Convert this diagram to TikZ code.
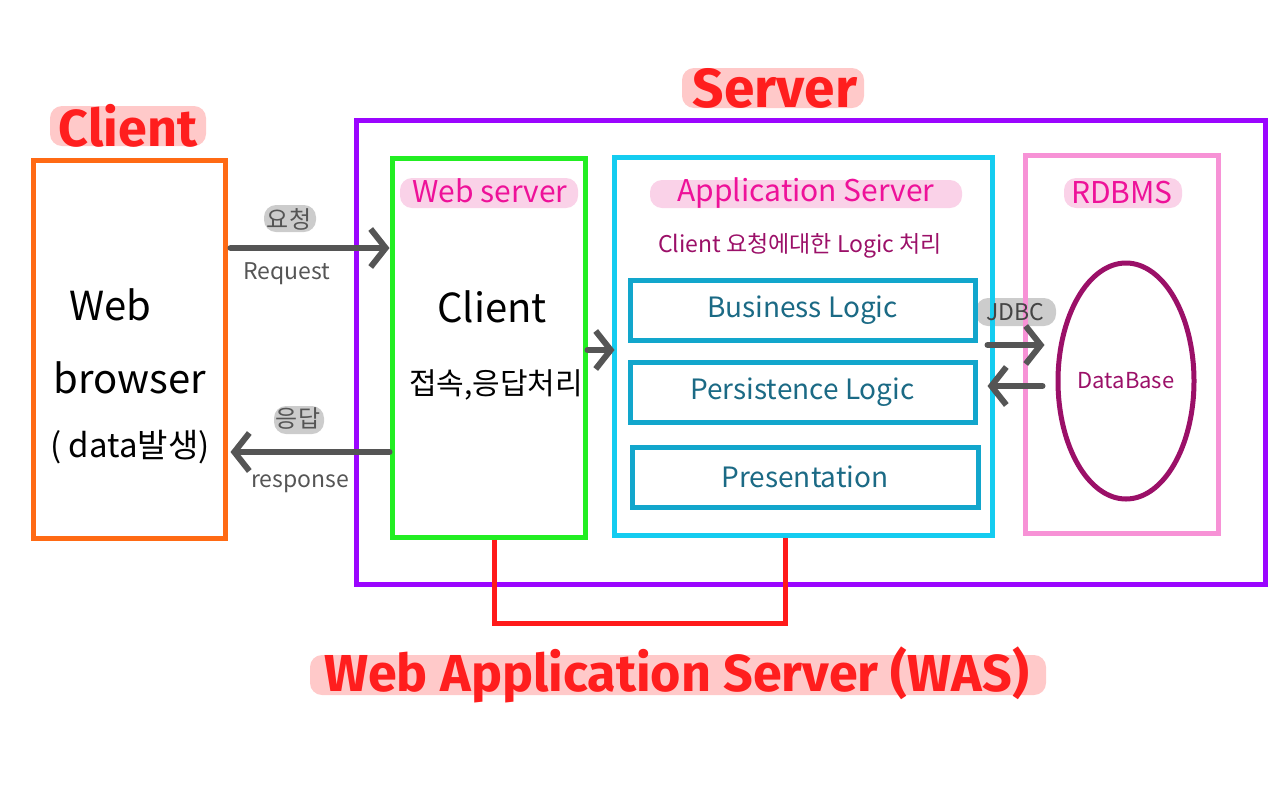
\documentclass[tikz,border=0pt]{standalone}
\usepackage{fontspec}
\setmainfont{Noto Sans CJK KR}
\newfontfamily\titlefont{Fira Sans}
\usetikzlibrary{arrows.meta,shapes.geometric,calc}
\definecolor{titlered}{HTML}{FF1E1E}
\definecolor{hlpink}{HTML}{FFC9C9}
\definecolor{hlmag}{HTML}{FAD2E8}
\definecolor{cOrange}{HTML}{FF6A14}
\definecolor{cPurple}{HTML}{9B05FF}
\definecolor{cGreen}{HTML}{22EE22}
\definecolor{cCyan}{HTML}{14CCF0}
\definecolor{cInner}{HTML}{12A6CC}
\definecolor{cPink}{HTML}{F792D6}
\definecolor{cMag}{HTML}{EE1199}
\definecolor{cDark}{HTML}{9B1068}
\definecolor{cTeal}{HTML}{1B6A85}
\definecolor{cGray}{HTML}{555555}
\definecolor{hlgray}{HTML}{CCCCCC}
\definecolor{cRed}{HTML}{FF1A1A}
\tikzset{
  box/.style={draw, line width=5pt, inner sep=0pt, anchor=center},
  arr/.style={draw=cGray, line width=6pt, line cap=round, line join=round,
    -{Straight Barb[length=15pt,width=38pt,line width=6pt]}},
  hl/.style={rounded corners=12pt},
  bigtitle/.style={text=titlered, font=\titlefont\bfseries\fontsize{52}{60}\selectfont, inner sep=0pt},
  subtitle/.style={text=cMag, font=\fontsize{30}{34}\selectfont, inner sep=0pt},
  bodytxt/.style={text=black, font=\fontsize{40}{48}\selectfont, inner sep=0pt},
  lbl/.style={text=cGray, font=\fontsize{23}{27}\selectfont, inner sep=0pt},
  logic/.style={text=cTeal, font=\fontsize{28}{32}\selectfont, inner sep=0pt}
}
\begin{document}
\begin{tikzpicture}[x=1pt,y=-1pt]
\useasboundingbox (0,0) rectangle (1280,796);
% highlights
\fill[hlpink,hl] (50,106) rectangle (206,146);
\fill[hlpink,hl] (682,68) rectangle (864,108);
\fill[hlpink,hl] (310,655) rectangle (1046,695);
\fill[hlmag,hl] (400,178) rectangle (578,208);
\fill[hlmag,hl] (650,180) rectangle (962,208);
\fill[hlmag,hl] (1064,178) rectangle (1182,208);
\fill[hlgray,hl] (264,205) rectangle (316,232);
\fill[hlgray,hl] (274,406) rectangle (324,434);
\fill[hlgray,hl] (976,298) rectangle (1056,326);

% titles
\node[bigtitle] (clientT) at (128,126) {Client};
\node[bigtitle, font=\titlefont\bfseries\fontsize{55}{62}\selectfont] (serverT) at (775,88) {Server};
\node[bigtitle, font=\titlefont\bfseries\fontsize{52}{60}\selectfont] (wasT) at (677,675) {Web Application Server (WAS)};

% boxes
\node[box, draw=cOrange, minimum width=192pt, minimum height=378pt] (client) at (129,349) {};
\node[box, draw=cPurple, minimum width=909pt, minimum height=464pt] (server) at (810.5,352) {};
\node[box, draw=cGreen, minimum width=193pt, minimum height=379pt] (ws) at (488.5,347.5) {};
\node[box, draw=cCyan, minimum width=378pt, minimum height=378pt] (as) at (803,346) {};
\node[box, draw=cInner, minimum width=345pt, minimum height=60pt] (bl) at (802.5,310) {};
\node[box, draw=cInner, minimum width=345pt, minimum height=60pt] (pl) at (802.5,392) {};
\node[box, draw=cInner, minimum width=346pt, minimum height=60pt] (pr) at (805,477) {};
\node[box, draw=cPink, minimum width=193pt, minimum height=378pt] (rdb) at (1121.5,344) {};
\node[box, draw=cDark, ellipse, minimum width=136pt, minimum height=236pt] (db) at (1126,381) {};

% box titles
\node[subtitle] (wsT) at (490,191) {Web server};
\node[subtitle] (asT) at (806,193) {Application Server};
\node[subtitle] (rdbT) at (1122,192) {RDBMS};
\node[text=cDark, font=\fontsize{23}{27}\selectfont, inner sep=0pt] (asSub) at (800,246) {Client 요청에대한 Logic 처리};

% body texts
\node[bodytxt] (wb1) at (110,305) {Web};
\node[bodytxt] (wb2) at (130,378) {browser};
\node[bodytxt, font=\fontsize{33}{40}\selectfont] (wb3) at (130,447) {( data발생)};
\node[bodytxt] (ws1) at (492,307) {Client};
\node[bodytxt, font=\fontsize{30}{36}\selectfont] (ws2) at (496,385) {접속,응답처리};
\node[logic] at (bl) {Business Logic};
\node[logic] at (pl) {Persistence Logic};
\node[logic] at (pr) {Presentation};
\node[text=cDark, font=\fontsize{22}{26}\selectfont, inner sep=0pt] at (db) {DataBase};

% arrow labels
\node[lbl, font=\fontsize{24}{28}\selectfont] (req1) at (289,219) {요청};
\node[lbl] (req2) at (287,274) {Request};
\node[lbl, font=\fontsize{24}{28}\selectfont] (res1) at (298,419) {응답};
\node[lbl] (res2) at (300,484) {response};
\node[lbl, text=cGray!80!black] (jdbc) at (1015,312) {JDBC};

% arrows
\coordinate (yreq) at (0,248);
\coordinate (yres) at (0,452);
\coordinate (ymid) at (0,350);
\coordinate (yj1) at (0,345);
\coordinate (yj2) at (0,386);
\draw[arr] ([xshift=3pt]client.east |- yreq) -- (ws.west |- yreq);
\draw[arr] (ws.west |- yres) -- ([xshift=3pt]client.east |- yres);
\draw[arr] (ws.east |- ymid) -- ([xshift=3pt]as.west |- ymid);
\draw[arr] ([xshift=-7pt]as.east |- yj1) -- ([xshift=-11pt]db.west |- yj1);
\draw[arr] ([xshift=-13pt]db.west |- yj2) -- ([xshift=-7pt]as.east |- yj2);

% WAS bracket
\draw[cRed, line width=5pt, line join=miter] ([xshift=6pt]ws.south) -- ++(0,84) -| ([xshift=-18pt]as.south);
\end{tikzpicture}
\end{document}
